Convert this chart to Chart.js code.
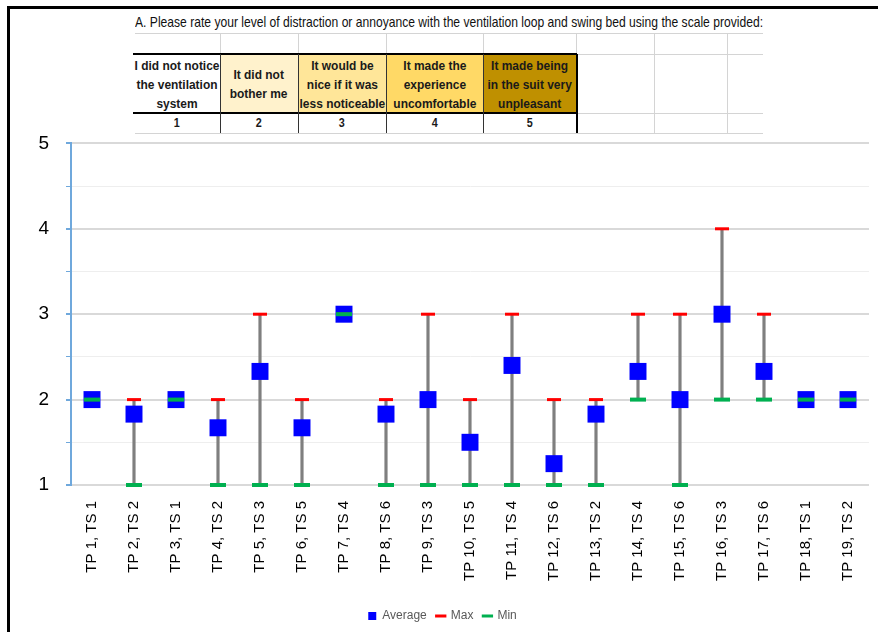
<!DOCTYPE html>
<html>
<head>
<meta charset="utf-8">
<title>Ventilation loop distraction rating</title>
<script src="https://cdn.jsdelivr.net/npm/chart.js@4.4.1/dist/chart.umd.min.js"></script>
<style>
  html, body { margin: 0; padding: 0; background: #fff; }
  body { width: 878px; height: 632px; position: relative; overflow: hidden; font-family: "Liberation Sans", Arial, sans-serif; }
  #frame { position: absolute; left: 7px; top: 6px; width: 900px; height: 700px; border-left: 3px solid #000; border-top: 3px solid #000; }
  .abs { position: absolute; }
  .hl { position: absolute; height: 1px; background: #d4d4d4; }
  .vl { position: absolute; width: 1px; background: #d4d4d4; }
  .blk { background: #000; }
  .cell { position: absolute; display: flex; align-items: center; justify-content: center; text-align: center; overflow: visible; }
  .cell span { display: inline-block; white-space: nowrap; font-size: 13.5px; line-height: 19px; color: #1a1a1a; font-weight: bold; transform-origin: center center; }
  .num { position: absolute; text-align: center; font-size: 13.5px; font-weight: bold; line-height: 20px; color: #1a1a1a; }
  .num span { display: inline-block; transform: scaleX(0.8); }
  #title { position: absolute; left: 135px; top: 14px; font-size: 14.5px; color: #111; white-space: nowrap; transform-origin: left center; }
  #chartBox { position: absolute; left: 10px; top: 115px; width: 871px; height: 517px; }
</style>
</head>
<body>
<div id="frame"></div>
<div id="title">A. Please rate your level of distraction or annoyance with the ventilation loop and swing bed using the scale provided:</div>
<div id="header"></div>
<div id="chartBox"><canvas id="ratingChart"></canvas></div>

<script>
// --- data ---
const categories = ['TP 1, TS 1', 'TP 2, TS 2', 'TP 3, TS 1', 'TP 4, TS 2', 'TP 5, TS 3', 'TP 6, TS 5',
                    'TP 7, TS 4', 'TP 8, TS 6', 'TP 9, TS 3', 'TP 10, TS 5', 'TP 11, TS 4', 'TP 12, TS 6',
                    'TP 13, TS 2', 'TP 14, TS 4', 'TP 15, TS 6', 'TP 16, TS 3', 'TP 17, TS 6', 'TP 18, TS 1', 'TP 19, TS 2'];
const averageValues = [2, 1.83, 2, 1.67, 2.33, 1.67, 3, 1.83, 2, 1.5, 2.4, 1.25, 1.83, 2.33, 2, 3, 2.33, 2, 2];
const maxValues     = [2, 2, 2, 2, 3, 2, 3, 2, 3, 2, 3, 2, 2, 3, 3, 4, 3, 2, 2];
const minValues     = [2, 1, 2, 1, 1, 1, 3, 1, 1, 1, 1, 1, 1, 2, 1, 2, 2, 2, 2];
const yTickLabels   = [1, 2, 3, 4, 5];

const scaleTexts  = ['I did not notice<br>the ventilation<br>system', 'It did not<br>bother me', 'It would be<br>nice if it was<br>less noticeable',
                     'It made the<br>experience<br>uncomfortable', 'It made being<br>in the suit very<br>unpleasant'];
const scaleNums   = ['1', '2', '3', '4', '5'];
const scaleColors = ['#ffffff', '#fff2cc', '#ffe699', '#ffd966', '#bf9000'];

// --- header table (spreadsheet look) ---
const header = document.getElementById('header');
const colEdges = [133, 220, 298, 386, 483, 576];
const emptyEdges = [654, 727];
function add(cls, style, html) {
    const d = document.createElement('div');
    d.className = cls;
    Object.assign(d.style, style);
    if (html) d.innerHTML = html;
    header.appendChild(d);
    return d;
}
// light spreadsheet grid
add('hl', { left: '135px', top: '33px', width: '628px' });
add('hl', { left: '576px', top: '54px', width: '187px' });
add('hl', { left: '576px', top: '113px', width: '187px' });
add('hl', { left: '135px', top: '133px', width: '628px' });
colEdges.slice(1).concat(emptyEdges).forEach(x => add('vl', { left: x + 'px', top: '33px', height: '21px' }));
emptyEdges.forEach(x => add('vl', { left: x + 'px', top: '54px', height: '80px' }));

// coloured cells
const spans = [];
scaleTexts.forEach((t, i) => {
    const l = colEdges[i], w = colEdges[i + 1] - l;
    const c = add('cell', { left: l + 'px', top: '55px', width: w + 'px', height: '58px', background: scaleColors[i] }, '<span>' + t + '</span>');
    spans.push([c.firstChild, w]);
    add('num', { left: l + 'px', top: '113px', width: w + 'px' }, '<span>' + scaleNums[i] + '</span>');
});
// squeeze the cell text into a narrow look, same factor for all cells
const squeeze = Math.min(...spans.map(([s, w]) => (w - 2) / s.offsetWidth));
spans.forEach(([s]) => { s.style.transform = 'scaleX(' + squeeze + ')'; });

// dark table rules
add('abs blk', { left: '133px', top: '53px', width: '444px', height: '2px' });
add('abs blk', { left: '133px', top: '112px', width: '444px', height: '2px' });
colEdges.slice(1).forEach((x, i) => add('abs', { left: x + 'px', top: '54px', width: (i === 4 ? 2 : 1) + 'px', height: '79px', background: i === 4 ? '#000' : '#333' }));

// title squeezed to the width of the sheet columns
const title = document.getElementById('title');
title.style.transform = 'scaleX(' + (628 / title.offsetWidth) + ')';

// --- chart ---
const legendOrder = ['Average', 'Max', 'Min'];

new Chart(document.getElementById('ratingChart'), {
    type: 'bar',
    data: {
        labels: categories,
        datasets: [
            {
                label: 'Range',
                data: categories.map((c, i) => [minValues[i], maxValues[i]]),
                backgroundColor: '#7f7f7f',
                barThickness: 2.5,
                order: 3
            },
            {
                type: 'line',
                label: 'Average',
                data: averageValues,
                showLine: false,
                clip: false,
                pointStyle: 'rect',
                pointRadius: 12,
                pointBackgroundColor: '#0000ff',
                pointBorderColor: '#0000ff',
                pointBorderWidth: 0,
                backgroundColor: '#0000ff',
                borderColor: '#0000ff',
                order: 2
            },
            {
                type: 'line',
                label: 'Max',
                data: maxValues,
                showLine: false,
                clip: false,
                pointStyle: 'line',
                pointRadius: 7,
                pointBorderColor: '#ff0000',
                pointBorderWidth: 3,
                borderColor: '#ff0000',
                order: 1
            },
            {
                type: 'line',
                label: 'Min',
                data: minValues,
                showLine: false,
                clip: false,
                pointStyle: 'line',
                pointRadius: 8,
                pointBorderColor: '#00b050',
                pointBorderWidth: 4,
                borderColor: '#00b050',
                order: 0
            }
        ]
    },
    options: {
        responsive: true,
        maintainAspectRatio: false,
        animation: false,
        layout: { padding: { top: 10, right: 6, bottom: 0, left: 0 } },
        plugins: {
            tooltip: { enabled: false },
            legend: {
                position: 'bottom',
                labels: {
                    usePointStyle: true,
                    boxWidth: 8,
                    boxHeight: 8,
                    padding: 10,
                    color: '#595959',
                    font: { family: 'Liberation Sans', size: 12 },
                    generateLabels: chart => legendOrder.map(name => {
                        const idx = chart.data.datasets.findIndex(d => d.label === name);
                        const ds = chart.data.datasets[idx];
                        return {
                            text: name,
                            datasetIndex: idx,
                            hidden: false,
                            fillStyle: ds.pointBackgroundColor || ds.borderColor,
                            strokeStyle: ds.pointBorderColor,
                            lineWidth: name === 'Average' ? 0 : 3,
                            pointStyle: ds.pointStyle,
                            fontColor: '#595959'
                        };
                    })
                }
            }
        },
        scales: {
            x: {
                grid: { display: false },
                border: { display: false },
                ticks: {
                    minRotation: 90,
                    maxRotation: 90,
                    autoSkip: false,
                    padding: 8,
                    color: '#000',
                    font: { family: 'Liberation Sans', size: 15 }
                },
                afterFit: scale => { scale.height = 115; }
            },
            y: {
                min: 1,
                max: 5,
                ticks: {
                    stepSize: 0.5,
                    autoSkip: false,
                    padding: 17,
                    color: '#000',
                    font: { family: 'Liberation Sans', size: 19 },
                    callback: v => yTickLabels.includes(v) ? String(v) : ''
                },
                grid: {
                    color: ctx => Number.isInteger(ctx.tick.value) ? '#d9d9d9' : '#eeeeee',
                    lineWidth: ctx => Number.isInteger(ctx.tick.value) ? 2 : 1,
                    tickColor: '#6fa8dc',
                    tickLength: 5
                },
                border: { color: '#6fa8dc', width: 2 },
                afterFit: scale => { scale.width = 61; }
            }
        }
    }
});
</script>
</body>
</html>
